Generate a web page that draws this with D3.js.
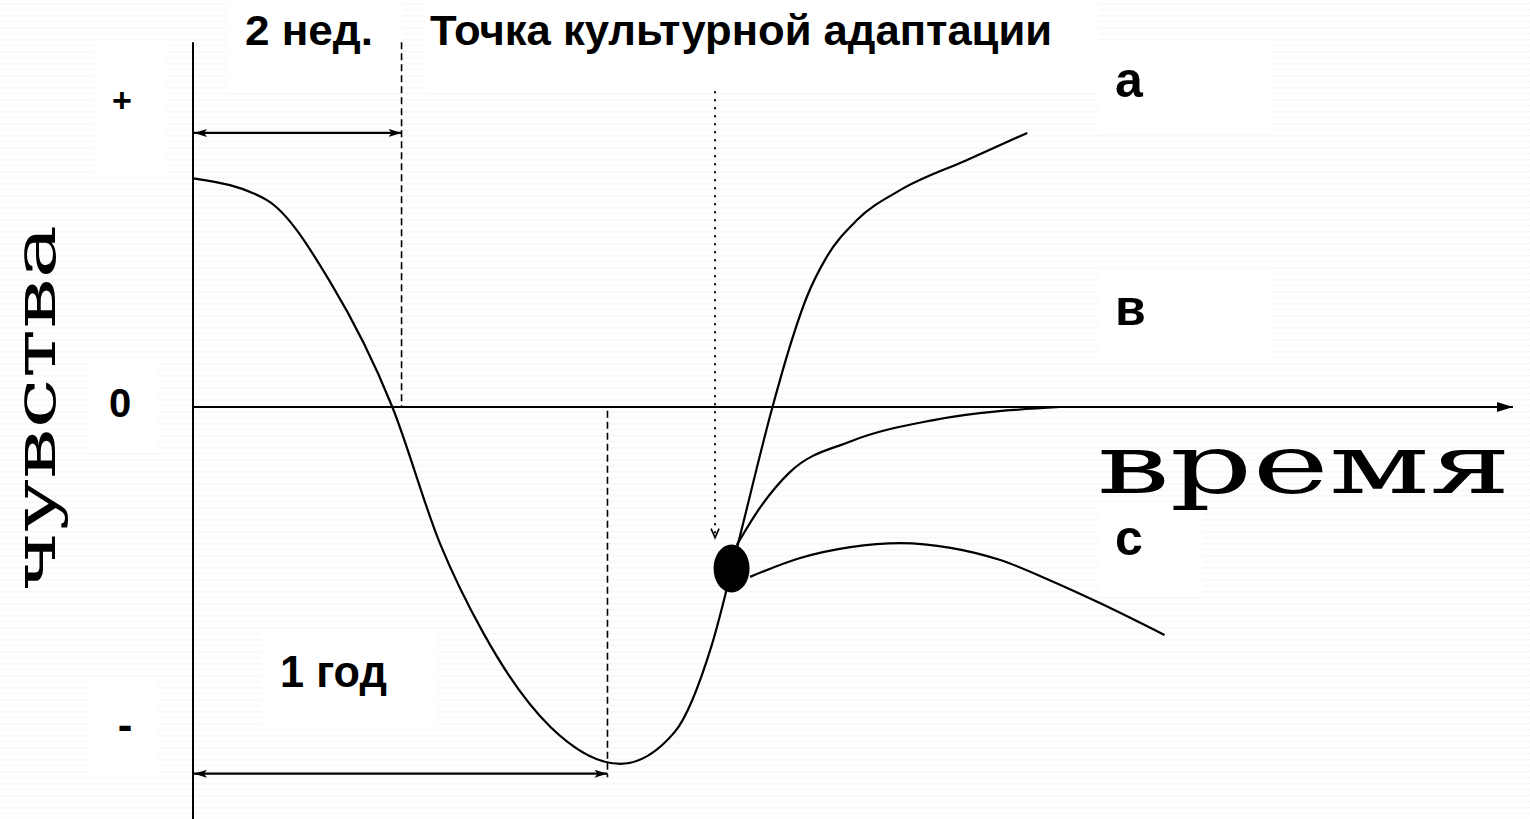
<!DOCTYPE html>
<html>
<head>
<meta charset="utf-8">
<script src="https://cdn.jsdelivr.net/npm/d3@7"></script>
<style>
html, body { margin: 0; padding: 0; background: #fff; overflow: hidden; }
</style>
</head>
<body>
<script>
// curve of culture shock: time (0..100) against feelings (-1..1)
var mainTime  = [0, 5.6, 10.4, 15.1, 18.7, 22.0, 27.1, 32.4, 36.5, 39.3, 41.3, 43.9, 45.2, 46.5, 48.0, 50.3, 53.6, 58.6, 63.2];
var mainFeel  = [0.63, 0.57, 0.344, 0, -0.375, -0.623, -0.882, -0.983, -0.895, -0.656, -0.375, 0, 0.165, 0.303, 0.413, 0.515, 0.598, 0.68, 0.755];
var bTime     = [41.2, 43.0, 45.2, 49.8, 56.1, 65.7];
var bFeel     = [-0.38, -0.275, -0.18, -0.095, -0.036, 0];
var cTime     = [42.2, 46.0, 49.8, 53.6, 57.4, 61.1, 64.9, 68.7, 73.6];
var cFeel     = [-0.468, -0.416, -0.386, -0.375, -0.388, -0.421, -0.477, -0.54, -0.628];
var adaptTime = [40.8];
var adaptFeel = [-0.445];
var spanTimes = [15.8, 31.4];          // 2 weeks, 1 year
var spanFeels = [0.755, -1.01];
var spanLabels = ["2 нед.", "1 год"];
var feelTicks = ["+", "0", "-"];
var branchLabels = ["а", "в", "с"];
var titleLabel = "Точка культурной адаптации";
var xTitle = "время";
var yTitle = "чувства";

var W = 1530, H = 819;
var svg = d3.select("body").append("svg").attr("width", W).attr("height", H);

var x = d3.scaleLinear().domain([0, 100]).range([193, 1513]);
var y = d3.scaleLinear().domain([-1, 1]).range([770, 44]);

var defs = svg.append("defs");
// faint scalloped paper texture
var pat = defs.append("pattern").attr("id", "tex").attr("patternUnits", "userSpaceOnUse")
  .attr("width", 8).attr("height", 6);
pat.append("rect").attr("width", 8).attr("height", 6).attr("fill", "#fff");
pat.append("path").attr("d", "M0,5 Q2,1 4,5 Q6,1 8,5").attr("fill", "none")
  .attr("stroke", "#eeeeee").attr("stroke-width", 0.7);

defs.append("marker").attr("id", "head").attr("viewBox", "0 0 13 10").attr("refX", 13).attr("refY", 5)
  .attr("markerUnits", "userSpaceOnUse").attr("markerWidth", 13).attr("markerHeight", 10).attr("orient", "auto-start-reverse")
  .append("path").attr("d", "M0,1 L13,5 L0,9 L3,5 Z").attr("fill", "#000");
defs.append("marker").attr("id", "axhead").attr("viewBox", "0 0 16 12").attr("refX", 16).attr("refY", 6)
  .attr("markerUnits", "userSpaceOnUse").attr("markerWidth", 16).attr("markerHeight", 12).attr("orient", "auto")
  .append("path").attr("d", "M0,1 L16,6 L0,11 Z").attr("fill", "#000");

svg.append("rect").attr("width", W).attr("height", H).attr("fill", "url(#tex)");

// white label boxes (as in the slide)
var boxes = [[95, 40, 71, 135], [88, 362, 70, 91], [88, 680, 70, 95], [227, 0, 175, 90], [425, 0, 673, 90],
  [1098, 40, 174, 92], [1098, 268, 174, 94], [1098, 502, 104, 93], [262, 633, 175, 94]];
svg.selectAll("rect.box").data(boxes).enter().append("rect").attr("class", "box")
  .attr("x", d => d[0]).attr("y", d => d[1]).attr("width", d => d[2]).attr("height", d => d[3]).attr("fill", "#fff");

var line = d3.line().x(d => x(d[0])).y(d => y(d[1])).curve(d3.curveMonotoneX);
var zip = (a, b) => a.map((v, i) => [v, b[i]]);

// axes
svg.append("line").attr("x1", x(0)).attr("x2", x(0)).attr("y1", y(1.005)).attr("y2", H)
  .attr("stroke", "#000").attr("stroke-width", 2);
svg.append("line").attr("x1", x(0)).attr("x2", x(100)).attr("y1", y(0)).attr("y2", y(0))
  .attr("stroke", "#000").attr("stroke-width", 2).attr("marker-end", "url(#axhead)");

// dashed guides
svg.append("line").attr("x1", x(spanTimes[0])).attr("x2", x(spanTimes[0])).attr("y1", y(1.005)).attr("y2", y(0))
  .attr("stroke", "#000").attr("stroke-width", 1.6).attr("stroke-dasharray", "7,4");
svg.append("line").attr("x1", x(spanTimes[1])).attr("x2", x(spanTimes[1])).attr("y1", y(-0.01)).attr("y2", y(-1.02))
  .attr("stroke", "#000").attr("stroke-width", 1.6).attr("stroke-dasharray", "7,4");

// span arrows
spanTimes.forEach(function(t, i) {
  svg.append("line").attr("x1", x(0) + 1).attr("x2", x(t)).attr("y1", y(spanFeels[i])).attr("y2", y(spanFeels[i]))
    .attr("stroke", "#000").attr("stroke-width", 2.2)
    .attr("marker-start", "url(#head)").attr("marker-end", "url(#head)");
});

// dotted pointer to the adaptation point
var px = x(39.55), pyEnd = y(-0.36);
svg.append("line").attr("x1", px).attr("x2", px).attr("y1", y(0.87)).attr("y2", pyEnd)
  .attr("stroke", "#000").attr("stroke-width", 2).attr("stroke-dasharray", "2,6");
svg.append("path").attr("d", "M" + (px - 4) + "," + (pyEnd - 9) + " L" + px + "," + pyEnd + " L" + (px + 4) + "," + (pyEnd - 9))
  .attr("fill", "none").attr("stroke", "#000").attr("stroke-width", 1.6);

// curves
[zip(mainTime, mainFeel), zip(bTime, bFeel), zip(cTime, cFeel)].forEach(function(d) {
  svg.append("path").attr("d", line(d)).attr("fill", "none").attr("stroke", "#000").attr("stroke-width", 2.2);
});

svg.selectAll("ellipse.pt").data(zip(adaptTime, adaptFeel)).enter().append("ellipse").attr("class", "pt")
  .attr("cx", d => x(d[0])).attr("cy", d => y(d[1])).attr("rx", 18).attr("ry", 24).attr("fill", "#000");

// texts
var sans = "'Liberation Sans', Arial, sans-serif";
function label(txt, lx, ly, size, len, anchor) {
  var t = svg.append("text").attr("x", lx).attr("y", ly).attr("font-family", sans).attr("font-weight", "bold")
    .attr("font-size", size).attr("fill", "#000").attr("text-anchor", anchor || "start").text(txt);
  if (len) t.attr("textLength", len).attr("lengthAdjust", "spacingAndGlyphs");
  return t;
}
label(spanLabels[0], 245, 45, 42, 128);
label(titleLabel, 430, 45, 42, 622);
label(spanLabels[1], 280, 687, 44, 107);
label(feelTicks[0], 122, 112, 34, null, "middle");
label(feelTicks[1], 120, 417, 40, null, "middle");
label(feelTicks[2], 125, 740, 44, null, "middle");
var bpos = [97, 325, 555];
branchLabels.forEach(function(b, i) { label(b, 1115, bpos[i], 50); });

svg.append("text").attr("x", 1097).attr("y", 493).attr("font-family", "'DejaVu Serif', serif")
  .attr("font-size", 82).attr("textLength", 414).attr("lengthAdjust", "spacingAndGlyphs").text(xTitle);
svg.append("text").attr("transform", "translate(55,591) rotate(-90)").attr("font-family", "'DejaVu Serif', serif")
  .attr("font-size", 57).attr("textLength", 366).attr("lengthAdjust", "spacingAndGlyphs").text(yTitle);
</script>
</body>
</html>
